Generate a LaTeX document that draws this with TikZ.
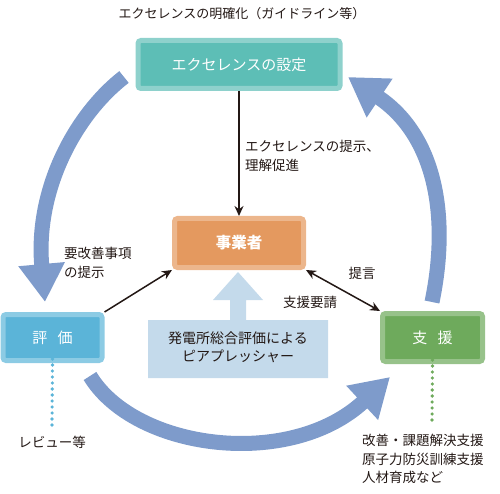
\documentclass[tikz,border=0pt]{standalone}
\usepackage{fontspec}
\setmainfont{Noto Sans CJK JP}
\usetikzlibrary{arrows.meta}
\definecolor{setc}{RGB}{93,190,182}
\definecolor{bizc}{RGB}{228,153,95}
\definecolor{evalc}{RGB}{91,180,216}
\definecolor{supc}{RGB}{110,170,92}
\definecolor{peerc}{RGB}{196,218,235}
\definecolor{cyc}{RGB}{126,155,203}
\definecolor{ink}{RGB}{35,24,21}

\begin{document}
\begin{tikzpicture}[x=1pt,y=-1pt,
  box/.style={rounded corners=3pt,line width=5pt,inner sep=0pt,text=white,
    font=\fontsize{15}{18}\selectfont},
  lbl/.style={inner sep=0pt,text=ink,align=left,font=\fontsize{13.5}{19}\selectfont},
  cycarrow/.style={cyc,line width=15pt,-{Triangle[length=38pt,width=44pt]}},
  conn/.style={ink,line width=1.5pt,-{Stealth[length=10pt,width=9pt]}},
  dblconn/.style={ink,line width=1.5pt,{Stealth[length=10pt,width=9pt]}-{Stealth[length=10pt,width=9pt]}},
  dots/.style={line width=3.6pt,line cap=round,dash pattern=on 0pt off 6pt}]
\useasboundingbox (0,0) rectangle (500,494);
% big cycle arrows
\draw[cycarrow] (124,77) .. controls (75,115) and (35,190) .. (45,302);
\draw[cycarrow] (90,376) .. controls (135,450) and (290,470) .. (390,377);
\draw[cycarrow] (432,302) .. controls (450,215) and (435,135) .. (348,77);
% peer pressure block
\fill[peerc] (148,320) -- (230,320) -- (230,300) -- (213,300) -- (238,272)
  -- (263,300) -- (246,300) -- (246,320) -- (328,320) -- (328,378)
  -- (148,378) -- cycle;
\node[lbl,align=center,font=\fontsize{14}{18}\selectfont] (peer) at (238,347)
  {発電所総合評価による\\ピアプレッシャー};
% boxes
\node[box,fill=setc,draw=setc!70!white,minimum width=202pt,minimum height=48pt]
  (set) at (239,64.5) {エクセレンスの設定};
\node[box,fill=bizc,draw=bizc!72!white,minimum width=129pt,minimum height=49pt,
  font=\fontsize{15.5}{18}\selectfont\bfseries]
  (biz) at (239,243) {事業者};
\node[box,fill=evalc,draw=evalc!70!white,minimum width=99pt,minimum height=46pt]
  (hyoka) at (52.5,337.5) {評\hspace{0.7em}価};
\node[box,fill=supc,draw=supc!72!white,minimum width=100pt,minimum height=48pt]
  (shien) at (432.5,337.5) {支\hspace{0.7em}援};
% texts
\node[lbl,font=\fontsize{13}{15}\selectfont] (title) at (242,14)
  {エクセレンスの明確化（ガイドライン等）};
\node[lbl,anchor=west] (teiji) at (245,155.5) {エクセレンスの提示、\\理解促進};
\node[lbl,anchor=west] (kaizen) at (64,263) {要改善事項\\の提示};
\node[lbl] (teigen) at (362,273) {提言};
\node[lbl] (yousei) at (310,302) {支援要請};
\node[lbl] (rev) at (52,442) {レビュー等};
\node[lbl,anchor=north west,font=\fontsize{13.5}{18.5}\selectfont] (menu) at (362,434)
  {改善・課題解決支援\\原子力防災訓練支援\\人材育成など};
\coordinate (revtop) at (52,425);
\coordinate (menutop) at (432,425);
% connectors
\draw[conn] (set.south) -- (biz.north);
\draw[conn] (hyoka.north east) -- (biz.south west);
\draw[dblconn] (biz.south east) -- (shien.north west);
\draw[dots,evalc] ([yshift=4pt]hyoka.south) -- (revtop);
\draw[dots,supc] ([yshift=4pt]shien.south) -- (menutop);
\end{tikzpicture}
\end{document}
